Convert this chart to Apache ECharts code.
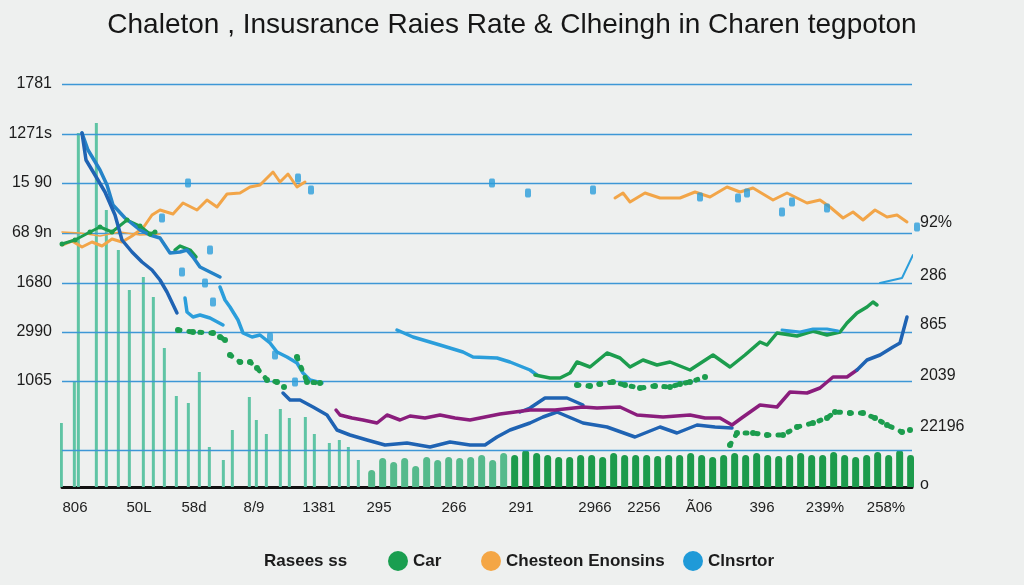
<!DOCTYPE html>
<html><head><meta charset="utf-8">
<script src="https://cdn.jsdelivr.net/npm/echarts@6/dist/echarts.min.js"></script>
<style>html,body{margin:0;padding:0;background:#eef0ef;}#c{width:1024px;height:585px;}</style>
</head><body><div id="c"></div>
<script>
// ---------- tick labels ----------
const xLabels   = ['806','50L','58d','8/9','1381','295','266','291','2966','2256','Ã06','396','239%','258%'];
const xLabelPos = [1.3,7.7,13.2,19.2,25.7,31.7,39.2,45.9,53.3,58.2,63.7,70,76.3,82.4];
const yLeftLabels = ['1065','2990','1680','68 9n','15 90','1271s','1781'];
const yLeftPos    = [21.2,31,40.8,50.8,60.8,70.6,80.6];
const yRightLabels = ['o','22196','2039','865','286','92%'];
const yRightPos    = [0.4,12,22.2,32.4,42.2,52.8];
const gridValues   = [7.4,21.2,31,40.8,50.8,60.8,70.6,80.6];

// ---------- series values ----------
const orangeLeft = [[0,48.4],[1,49.2],[2,48],[3,49],[4,48.2],[5,49.6],[6,49],[7,50.2],[8.1,51.8],[9,54.4],[9.8,55.4],[11.1,54.6],[12.1,56.8],[13.5,55.4],[14.5,57.4],[15.5,56],[16.5,58.6],[17.8,58.8],[18.8,60],[19.8,60.4],[21.1,63],[21.8,61],[22.6,62.6],[23.5,60],[24.3,61]];
const orangeThin = [[0,51],[1.8,50.8],[3.8,50.2],[5.8,51],[7.8,50.4],[9.8,50.6]];
const orangeRight = [[55.3,57.8],[56.1,58.8],[56.8,57],[58.3,58.8],[59.8,57.8],[61.8,57.8],[63.3,59],[64.8,58],[66.5,60],[67.8,59],[69.1,59.8],[71.1,57.4],[72.5,58.8],[74.5,56.8],[75.8,57.4],[76.8,56],[78.1,53.8],[79.1,55],[80.1,53.4],[81.3,55.4],[82.5,54],[83.5,54.4],[84.5,53]];

const blue1 = [[2,70.8],[2.6,67.4],[3.8,63.4],[4.5,60.4],[5.1,56.4],[6.3,53.8],[7.8,51.4],[8.8,50.4],[9.8,49.8],[10.8,46.8],[11.8,47],[12.5,47.4],[13.1,46],[13.8,44],[14.8,43],[15.8,42]];
const blue2 = [[2,70.8],[2.4,65.4],[3.3,62.4],[4.3,59],[5.3,54.4],[6,49.4],[7,47],[8,45],[9,43.4],[9.8,41.4],[10.5,39],[11.5,34.8]];
const blue2b = [[12.3,37.8],[12.5,35],[13.1,34],[13.8,34.4],[14.8,33.8],[16.1,32.4]];
const blue3 = [[15.8,40],[16.3,37.4],[16.8,36],[17.6,33.4],[18.1,30.8],[19,30],[19.8,30.4],[20.8,28.8],[21.5,27],[22.5,26],[23.5,24.8],[24.1,22.8],[24.8,21.4],[26,20.8]];
const blue4 = [[22.1,18.8],[22.8,17.4],[23.8,17.4],[25.1,16],[26.5,14.4],[27.5,11.4],[28.8,10.4],[30.5,9.4],[32.3,8.4],[34.5,8.8],[36.8,8],[38.8,9],[40.8,8.4],[42.3,8.4],[43.5,10],[44.8,11.4],[46.8,12.8],[48.1,14],[49.5,15],[52.1,12.8],[54.5,12],[57.3,10],[59.8,12],[61.5,10.8],[63.5,12.4],[65.3,12],[67,11.8]];
const blueUpper = [[45.8,15],[46.8,15.8],[48.3,17.8],[50.5,17.8],[52.1,16.4]];
const blueRight = [[79.5,23.4],[80.5,25.4],[81.8,26.4],[83.1,28],[83.8,28.8],[84.5,34]];
const blueMid = [[33.5,31.4],[35.1,30],[37.8,28.4],[40.1,27],[41.1,26],[43.5,25.8],[44.8,25],[46.8,23.4],[47.5,22.4]];
const blueOverlay = [[72,31.4],[73.8,31],[75.1,31.6],[76.5,31.6],[77.6,31.2]];
const blueEdge = [[81.8,40.8],[84,41.8],[85.1,46.4]];
const blueDots = [[12.6,60.8],[10,53.8],[14.8,47.4],[12,43],[14.3,40.8],[15.1,37],[20.8,30],[21.3,26.4],[23.3,21],[23.6,61.8],[24.9,59.4],[43,60.8],[46.6,58.8],[53.1,59.4],[63.8,58],[67.6,57.8],[68.5,58.8],[72,55],[73,57],[76.5,55.8],[85.5,52]];

const purple = [[27.4,15.4],[27.8,14.4],[29,13.8],[30.1,13.4],[31.5,12.8],[32.5,14.4],[33.8,13.4],[34.8,14.2],[36.3,13.8],[37.8,14.4],[39.3,13.8],[40.8,13.4],[42.3,14],[43.8,14.6],[45.3,15],[46.8,15.4],[49.3,15.4],[52.1,16],[53.5,15.8],[55.8,16],[57.5,14.4],[60.1,14],[62.8,14.4],[64.3,13.8],[65.8,13.8],[67,12.4],[68.1,14],[69.8,16.4],[71.5,16],[72.8,19],[74.5,18.8],[75.8,19.8],[77.1,22],[78.5,22],[79.5,23.4]];

const greenLeft = [[0,48.6],[1.3,49.4],[2.8,51],[3.8,52],[5,51],[6.5,53.4],[7.8,52.2],[8.8,50.6],[9.3,51]];
const greenLeft2 = [[11.3,47.4],[11.8,48.2],[12.8,47.4],[13.4,46]];
const greenSolid = [[47.3,22.4],[48.8,21.8],[49.8,21.8],[50.8,22.8],[51.5,25],[52.8,24],[54.5,26.8],[55.8,25.8],[56.8,24],[58.1,25.4],[59.5,24.4],[60.8,25],[62.8,23.4],[65.1,26.4],[66.8,24],[68.3,26.4],[69.8,29],[70.5,28.4],[71.5,30.8],[73.5,30.2],[75.1,31.2],[76.5,30.4],[77.8,31],[78.5,32.8],[79.5,34.8],[80.5,36],[81.1,37],[81.5,36.4]];
const greenDotMid = [[51.5,20.4],[52.8,20.2],[53.8,20.6],[55.1,21],[56.3,20.4],[57.8,19.8],[59.3,20.2],[60.8,20],[61.8,20.6],[62.8,21],[64.3,22]];
const greenDotRight = [[66.8,8.4],[67.5,10.8],[69.1,10.8],[70.5,10.4],[72.1,10.4],[73.5,12],[75.1,12.8],[76.5,13.8],[77.3,15],[78.8,14.8],[80.1,14.8],[81.3,13.8],[82.5,12.4],[84,11],[84.8,11.4]];
const greenDotLeftA = [[11.6,31.4],[13.1,31],[15.1,30.8],[15.8,30],[16.3,29.4]];
const greenDotLeftB = [[16.8,26.4],[17.8,25],[18.8,25],[19.5,23.8],[20.5,21.4],[21.5,21],[22.2,20]];
const greenDotLeftC = [[23.5,26],[24.5,21],[25.8,20.8]];

const tealSpikes = [[0.1,3],[0.3,12.8],[1.6,21],[2,70.8],[3.8,72.8],[4.8,55.4],[6,47.4],[7.1,39.4],[8.5,42],[9.5,38],[10.6,27.8],[11.8,18.2],[13,16.8],[14.1,23],[15.1,8],[16.5,5.4],[17.4,11.4],[19.1,18],[19.8,13.4],[20.8,10.6],[22.2,15.6],[23.1,13.8],[24.7,14],[25.6,10.6],[27.1,8.8],[28.1,9.4],[29,8],[30,5.4]];
const greenBarStart = 30.8, greenBarStep = 1.1;
const greenBarHeights = [3.4,5.8,5,5.8,4.2,6,5.4,6,5.8,6,6.4,5.4,6.8,6.4,7.4,6.8,6.4,6,6,6.4,6.4,6,6.8,6.4,6.4,6.4,6.2,6.4,6.4,6.8,6.4,6,6.4,6.8,6.4,6.8,6.4,6.2,6.4,6.8,6.4,6.4,7,6.4,6,6.4,7,6.4,7.4,6.4];

// ---------- styling ----------
const C = {orange:'#f2a548', green:'#1c9d4e', blue:'#1f9ad8', dblue:'#1f63b3', mblue:'#2583c8', lblue:'#2b9edb', purple:'#8a1d7c', teal:'#5fc4a4', bar:'#1d9b4c', barLight:'#55ba8c', grid:'#3d97d6'};
const FONT = "'Liberation Sans Narrow','Liberation Sans',Arial,sans-serif";

function line(name, data, color, width, extra) {
  return Object.assign({type:'line', name, data, showSymbol:false, symbol:'circle', symbolSize:7,
    lineStyle:{color, width, cap:'round', join:'round'}, itemStyle:{color}, z:5, silent:true, animation:false}, extra||{});
}
function dotted(name, data, color) {
  return line(name, data, color, 5, {lineStyle:{color, width:5, type:[2,9], cap:'round'}, showSymbol:true, symbolSize:6});
}

const series = [
  {type:'bar', name:'Rasees ss', data:tealSpikes, barWidth:3, itemStyle:{color:C.teal}, z:1, animation:false,
   markLine:{silent:true, symbol:'none', label:{show:false}, lineStyle:{color:C.grid, width:1.3, type:'solid'},
     data: gridValues.map(v=>({yAxis:v})), animation:false}},
  {type:'bar', name:'Rasees ss', data:greenBarHeights.map((h,i)=>[greenBarStart+i*greenBarStep, h]), barWidth:7,
   itemStyle:{color:(p)=>p.dataIndex<13?C.barLight:C.bar, borderRadius:[4,4,0,0]}, z:1, animation:false},
  line('Chesteon Enonsins', orangeLeft, C.orange, 3),
  line('Chesteon Enonsins', orangeThin, C.orange, 1.5),
  line('Chesteon Enonsins', orangeRight, C.orange, 3),
  line('Car', greenLeft, C.green, 3, {showSymbol:true, symbolSize:5}),
  line('Car', greenLeft2, C.green, 3.5),
  line('Clnsrtor', blue1, C.mblue, 3.5),
  line('Clnsrtor', blue2, C.dblue, 3.5),
  line('Clnsrtor', blue2b, C.lblue, 3.5),
  line('Clnsrtor', blue3, C.lblue, 3.5),
  line('Clnsrtor', blue4, C.dblue, 3.5),
  line('Clnsrtor', blueUpper, C.dblue, 3.5),
  line('purple', purple, C.purple, 3.5),
  line('Clnsrtor', blueRight, C.dblue, 3.5),
  line('Clnsrtor', blueMid, C.lblue, 3.5),
  line('Car', greenSolid, C.green, 3.5),
  line('Clnsrtor', blueOverlay, C.lblue, 3),
  line('Clnsrtor', blueEdge, C.lblue, 2, {clip:false}),
  dotted('Car', greenDotMid, C.green),
  dotted('Car', greenDotRight, C.green),
  dotted('Car', greenDotLeftA, C.green),
  dotted('Car', greenDotLeftB, C.green),
  dotted('Car', greenDotLeftC, C.green),
  {type:'scatter', name:'Clnsrtor', data:blueDots, symbol:'roundRect', symbolSize:[6,9], itemStyle:{color:C.lblue}, z:6, clip:false, animation:false}
];

const legendText = {fontFamily:FONT, fontSize:17, fontWeight:'bold', color:'#1c1c1c'};
function lg(left, item) {
  return {left, top:546, itemWidth:20, itemHeight:20, itemGap:0, selectedMode:false, textStyle:legendText, data:[item]};
}

const chart = echarts.init(document.getElementById('c'), null, {renderer:'canvas'});
chart.setOption({
  backgroundColor:'#eef0ef',
  animation:false,
  title:{text:'Chaleton , Insusrance Raies Rate & Clheingh in Charen tegpoton', left:'center', top:6,
    textStyle:{fontFamily:"'Liberation Sans',Arial,sans-serif", fontSize:28, fontWeight:'normal', color:'#161616'}},
  grid:{left:62, right:112, top:84, bottom:98, containLabel:false},
  xAxis:{type:'value', min:0, max:85, splitLine:{show:false},
    axisLine:{show:true, onZero:false, lineStyle:{color:'#111', width:3}}, axisTick:{show:false},
    axisLabel:{customValues:xLabelPos, margin:13, fontFamily:FONT, fontSize:15, color:'#222',
      formatter:(v)=>{const i=xLabelPos.indexOf(v); return i>=0?xLabels[i]:'';}}},
  yAxis:[
    {type:'value', min:0, max:80.6, splitLine:{show:false}, axisLine:{show:false}, axisTick:{show:false},
     axisLabel:{customValues:yLeftPos, margin:10, fontFamily:FONT, fontSize:16, color:'#1c1c1c',
       formatter:(v)=>{const i=yLeftPos.indexOf(v); return i>=0?yLeftLabels[i]:'';}}},
    {type:'value', position:'right', min:0, max:80.6, splitLine:{show:false}, axisLine:{show:false}, axisTick:{show:false},
     axisLabel:{customValues:yRightPos, margin:8, fontFamily:FONT, fontSize:16, color:'#1c1c1c',
       formatter:(v)=>{const i=yRightPos.indexOf(v); return i>=0?yRightLabels[i]:'';}}}
  ],
  legend:[
    lg(234, {name:'Rasees ss', icon:'none'}),
    lg(383, {name:'Car', icon:'circle', itemStyle:{color:'#1a9e50'}}),
    lg(476, {name:'Chesteon Enonsins', icon:'circle', itemStyle:{color:'#f4a645'}}),
    lg(678, {name:'Clnsrtor', icon:'circle', itemStyle:{color:'#1f9ad8'}})
  ],
  series
});
</script></body></html>
